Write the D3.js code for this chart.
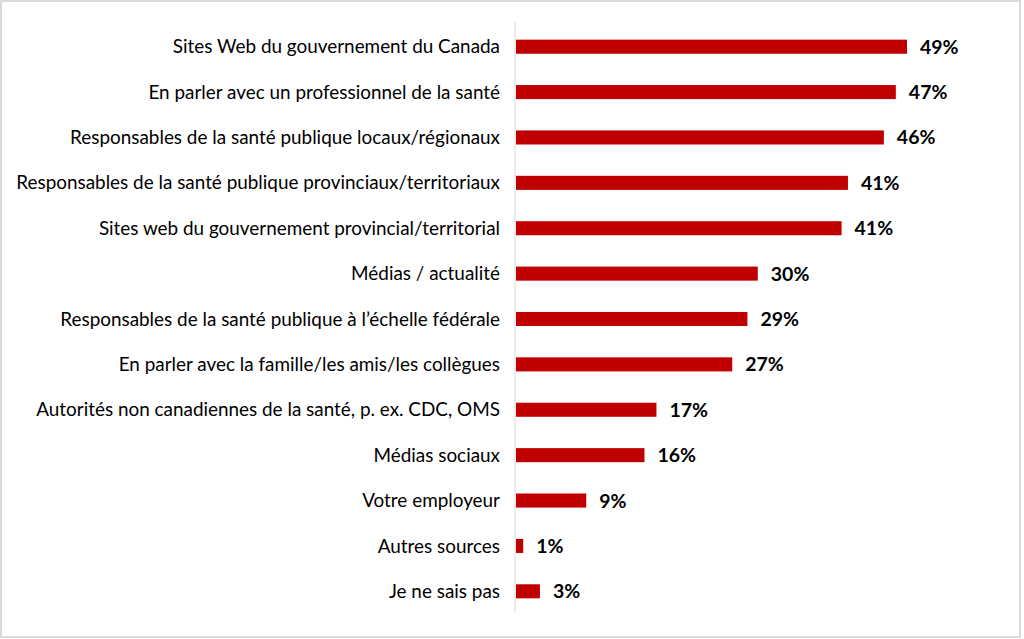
<!DOCTYPE html>
<html><head><meta charset="utf-8">
<script src="https://cdn.jsdelivr.net/npm/d3@7"></script>
<style>body{margin:0;background:#fff}svg{display:block}</style>
</head><body>
<svg id="c" width="1024" height="639"></svg>
<script>
const categories = [
  "Sites Web du gouvernement du Canada",
  "En parler avec un professionnel de la santé",
  "Responsables de la santé publique locaux/régionaux",
  "Responsables de la santé publique provinciaux/territoriaux",
  "Sites web du gouvernement provincial/territorial",
  "Médias / actualité",
  "Responsables de la santé publique à l’échelle fédérale",
  "En parler avec la famille/les amis/les collègues",
  "Autorités non canadiennes de la santé, p. ex. CDC, OMS",
  "Médias sociaux",
  "Votre employeur",
  "Autres sources",
  "Je ne sais pas"
];
const values = [49, 47.6, 46.1, 41.6, 40.8, 30.3, 29.0, 27.1, 17.6, 16.1, 8.8, 0.9, 3.0];
const valueLabels = ["49%","47%","46%","41%","41%","30%","29%","27%","17%","16%","9%","1%","3%"];

const svg = d3.select("#c");
const W = 1024, H = 639;
svg.append("rect").attr("x",1).attr("y",1).attr("width",W-5).attr("height",H-3)
  .attr("fill","#fff").attr("stroke","#d9d9d9").attr("stroke-width",2);

const x0 = 516;
const x = d3.scaleLinear().domain([0, 49]).range([x0, 907]);
const y = d3.scaleBand().domain(categories).range([24, 614]).paddingInner(0.69).paddingOuter(0.345);

const font = "Lato, 'Open Sans', sans-serif";

svg.append("line").attr("x1",515).attr("x2",515).attr("y1",22).attr("y2",613)
  .attr("stroke","#d9d9d9").attr("stroke-width",1);

svg.selectAll("rect.bar").data(values).join("rect").attr("class","bar")
  .attr("x", x0).attr("y",(d,i)=>y(categories[i]))
  .attr("width", d=>x(d)-x0).attr("height", y.bandwidth())
  .attr("fill","#c00000");

const lab = svg.selectAll("text.cat").data(categories).join("text").attr("class","cat")
  .attr("x", 500).attr("y", d=>y(d)+y.bandwidth()/2)
  .attr("dy","0.35em").attr("text-anchor","end")
  .style("font-family", font).style("font-size","16px").attr("fill","#000")
  .text(d=>d);
let maxW = 0; lab.each(function(){ maxW = Math.max(maxW, this.getComputedTextLength()); });
const fs = 16 * 484 / maxW;
lab.style("font-size", fs.toFixed(2)+"px");

svg.selectAll("text.val").data(values).join("text").attr("class","val")
  .attr("x", d=>x(d)+13).attr("y",(d,i)=>y(categories[i])+y.bandwidth()/2)
  .attr("dy","0.36em")
  .style("font-family", font).style("font-size","19.5px").style("font-weight","bold")
  .attr("fill","#000").text((d,i)=>valueLabels[i]);
</script>
</body></html>
